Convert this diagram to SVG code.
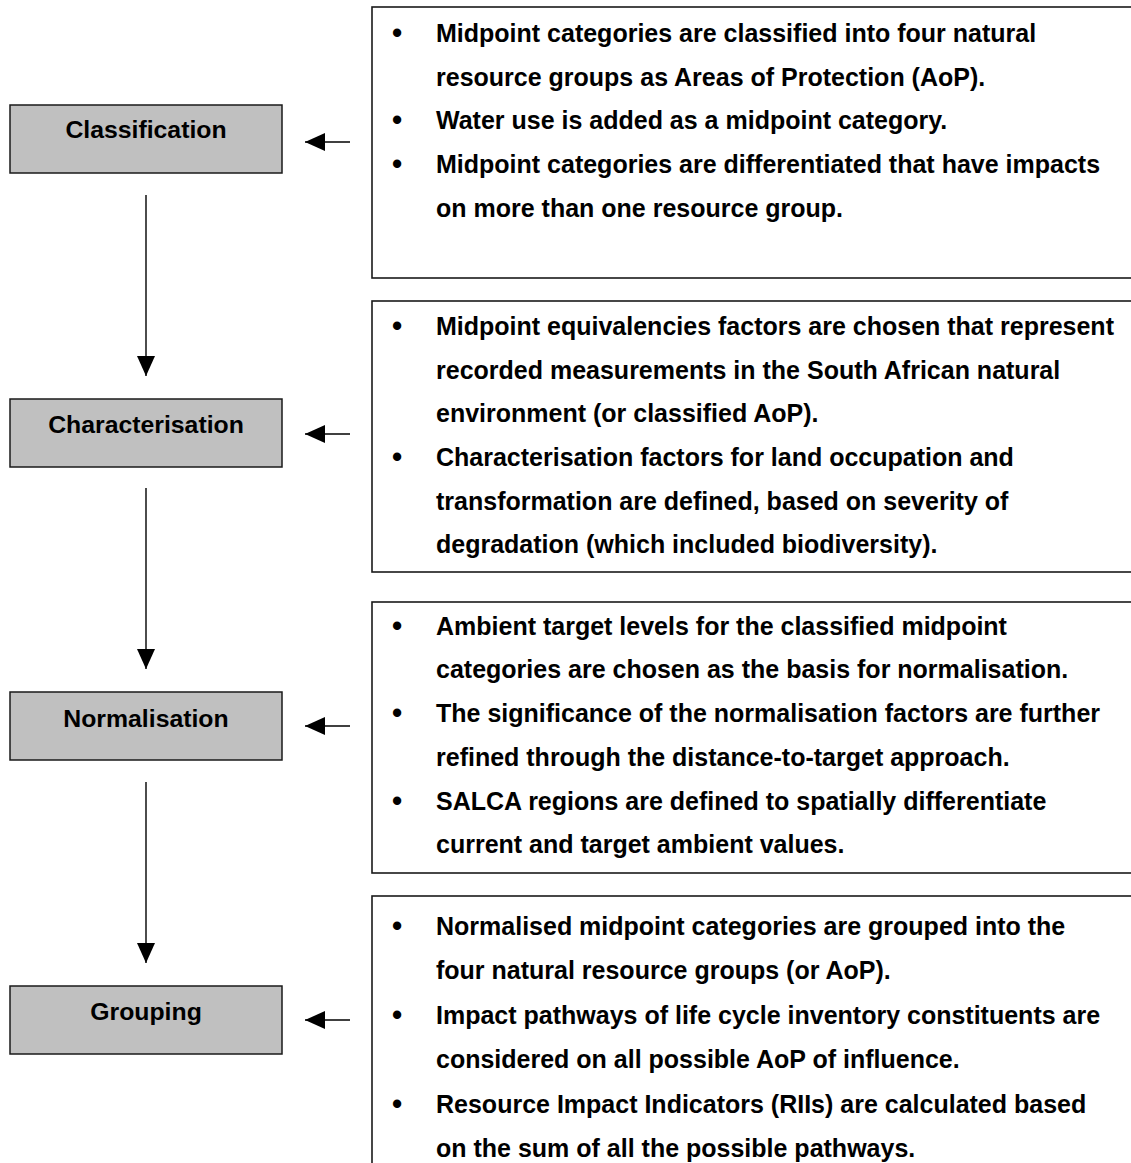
<svg xmlns="http://www.w3.org/2000/svg" width="1131" height="1163" viewBox="0 0 1131 1163">
<style>
.step{fill:#c0c0c0;stroke:#1a1a1a;stroke-width:1.5}
.lbl{font-family:"Liberation Sans",Arial,sans-serif;font-weight:bold;font-size:24.8px;fill:#000;text-anchor:middle}
.panel{fill:#fff;stroke:#1a1a1a;stroke-width:1.6}
.t{font-family:"Liberation Sans",Arial,sans-serif;font-weight:bold;font-size:25px;fill:#000}
.b{font-family:"Liberation Sans",Arial,sans-serif;font-weight:bold;font-size:29px;fill:#000;text-anchor:middle}
.ln{stroke:#000;stroke-width:1.4;fill:none}
</style>
<defs>
<marker id="ah" viewBox="0 0 20 18" refX="20" refY="9" markerWidth="20" markerHeight="18" markerUnits="userSpaceOnUse" orient="auto">
<path d="M0,0 L20,9 L0,18 Z" fill="#000"/>
</marker>
</defs>
<rect width="1131" height="1163" fill="#fff"/>

<g id="panel-classification">
<rect class="panel" x="372" y="7" width="780" height="271"/>
<text class="b" x="397" y="43">•</text>
<text class="t" x="436" y="42">Midpoint categories are classified into four natural</text>
<text class="t" x="436" y="85.5">resource groups as Areas of Protection (AoP).</text>
<text class="b" x="397" y="130">•</text>
<text class="t" x="436" y="129">Water use is added as a midpoint category.</text>
<text class="b" x="397" y="174">•</text>
<text class="t" x="436" y="173">Midpoint categories are differentiated that have impacts</text>
<text class="t" x="436" y="217">on more than one resource group.</text>
</g>

<g id="panel-characterisation">
<rect class="panel" x="372" y="301" width="780" height="271"/>
<text class="b" x="397" y="336">•</text>
<text class="t" x="436" y="335">Midpoint equivalencies factors are chosen that represent</text>
<text class="t" x="436" y="379">recorded measurements in the South African natural</text>
<text class="t" x="436" y="422">environment (or classified AoP).</text>
<text class="b" x="397" y="467">•</text>
<text class="t" x="436" y="466">Characterisation factors for land occupation and</text>
<text class="t" x="436" y="510">transformation are defined, based on severity of</text>
<text class="t" x="436" y="553">degradation (which included biodiversity).</text>
</g>

<g id="panel-normalisation">
<rect class="panel" x="372" y="602" width="780" height="271"/>
<text class="b" x="397" y="636">•</text>
<text class="t" x="436" y="635">Ambient target levels for the classified midpoint</text>
<text class="t" x="436" y="678">categories are chosen as the basis for normalisation.</text>
<text class="b" x="397" y="723">•</text>
<text class="t" x="436" y="722">The significance of the normalisation factors are further</text>
<text class="t" x="436" y="766">refined through the distance-to-target approach.</text>
<text class="b" x="397" y="811">•</text>
<text class="t" x="436" y="810">SALCA regions are defined to spatially differentiate</text>
<text class="t" x="436" y="853">current and target ambient values.</text>
</g>

<g id="panel-grouping">
<rect class="panel" x="372" y="896" width="780" height="300"/>
<text class="b" x="397" y="936">•</text>
<text class="t" x="436" y="935">Normalised midpoint categories are grouped into the</text>
<text class="t" x="436" y="979">four natural resource groups (or AoP).</text>
<text class="b" x="397" y="1025">•</text>
<text class="t" x="436" y="1024">Impact pathways of life cycle inventory constituents are</text>
<text class="t" x="436" y="1068">considered on all possible AoP of influence.</text>
<text class="b" x="397" y="1114">•</text>
<text class="t" x="436" y="1113">Resource Impact Indicators (RIIs) are calculated based</text>
<text class="t" x="436" y="1157">on the sum of all the possible pathways.</text>
</g>

<g id="step-classification">
<rect class="step" x="10" y="105" width="272" height="68"/>
<text class="lbl" x="146" y="138">Classification</text>
</g>
<g id="step-characterisation">
<rect class="step" x="10" y="399" width="272" height="68"/>
<text class="lbl" x="146" y="433">Characterisation</text>
</g>
<g id="step-normalisation">
<rect class="step" x="10" y="692" width="272" height="68"/>
<text class="lbl" x="146" y="727">Normalisation</text>
</g>
<g id="step-grouping">
<rect class="step" x="10" y="986" width="272" height="68"/>
<text class="lbl" x="146" y="1020">Grouping</text>
</g>

<g id="connectors">
<line class="ln" x1="146" y1="195" x2="146" y2="376" marker-end="url(#ah)"/>
<line class="ln" x1="146" y1="488" x2="146" y2="669" marker-end="url(#ah)"/>
<line class="ln" x1="146" y1="782" x2="146" y2="963" marker-end="url(#ah)"/>
<line class="ln" x1="350" y1="142" x2="305" y2="142" marker-end="url(#ah)"/>
<line class="ln" x1="350" y1="434" x2="305" y2="434" marker-end="url(#ah)"/>
<line class="ln" x1="350" y1="726" x2="305" y2="726" marker-end="url(#ah)"/>
<line class="ln" x1="350" y1="1020" x2="305" y2="1020" marker-end="url(#ah)"/>
</g>
</svg>
